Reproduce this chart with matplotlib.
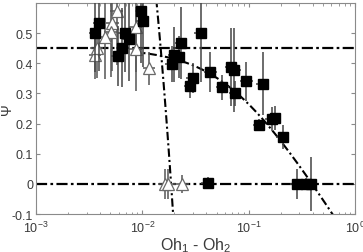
import numpy as np
import matplotlib
matplotlib.use("Agg")
import matplotlib.pyplot as plt
from matplotlib.ticker import FixedLocator, FuncFormatter, LogLocator, NullFormatter

plt.rcParams['font.family'] = ['Liberation Sans', 'DejaVu Sans']
plt.rcParams['mathtext.fontset'] = 'custom'
plt.rcParams['mathtext.rm'] = 'Liberation Sans'
plt.rcParams['mathtext.it'] = 'Liberation Sans:italic'

# filled squares
sq_x = [0.00973, 0.0101, 0.00392, 0.00359, 0.00687, 0.00745, 0.00644, 0.00587,
        0.0200, 0.0220, 0.0189, 0.0231, 0.0354, 0.0298, 0.0281, 0.0434, 0.0566,
        0.0683, 0.0729, 0.0744, 0.0946, 0.136, 0.125, 0.165, 0.177, 0.209,
        0.0412, 0.283, 0.347, 0.384]
sq_y = [0.572, 0.539, 0.534, 0.501, 0.501, 0.480, 0.452, 0.425,
        0.429, 0.421, 0.397, 0.468, 0.499, 0.350, 0.324, 0.370, 0.320,
        0.387, 0.377, 0.300, 0.341, 0.333, 0.196, 0.214, 0.218, 0.155,
        0.003, 0.0, 0.0, 0.0]
sq_err = [0.17, 0.15, 0.16, 0.13, 0.13, 0.14, 0.13, 0.10,
          0.09, 0.07, 0.06, 0.12, 0.16, 0.05, 0.04, 0.066, 0.04,
          0.13, 0.14, 0.04, 0.065, 0.105, 0.02, 0.04, 0.04, 0.04,
          0.02, 0.05, 0.02, 0.09]

# open triangles
tr_x = [0.00574, 0.00523, 0.00505, 0.00446, 0.00867, 0.00867, 0.00359, 0.00373,
        0.01156, 0.0163, 0.0176, 0.0238]
tr_y = [0.575, 0.533, 0.505, 0.487, 0.520, 0.447, 0.427, 0.452,
        0.384, 0.0, 0.0, 0.0]
tr_err = [0.18, 0.16, 0.15, 0.14, 0.15, 0.14, 0.08, 0.10,
          0.055, 0.05, 0.05, 0.03]

x_rel_err = 0.15

# model curves parameters
psi_plateau = 0.45
curve_s, curve_x0, curve_m = 0.187, 0.0666, 1.3
steep_a, steep_b = 2.232, 119.7

fig = plt.figure(figsize=(3.63, 2.53), dpi=100)
ax = fig.add_axes([0.099, 0.150, 0.879, 0.834])

tc = '#3a3a3a'
ax.axhline(psi_plateau, color='black', lw=1.6, dashes=[5, 1.5, 1.2, 1.5], zorder=2)
ax.axhline(0.0, color='black', lw=1.6, dashes=[5, 1.5, 1.2, 1.5], zorder=2)

xc = np.logspace(np.log10(0.008), 0, 300)
yc = psi_plateau - curve_s * np.log(1 + (xc / curve_x0) ** curve_m)
ax.plot(xc, yc, color='black', lw=1.5, dashes=[4, 1.5, 1, 1.5], zorder=2)

xs = np.linspace(0.0125, 0.0205, 100)
ys = steep_a - steep_b * xs
ax.plot(xs, ys, color='black', lw=1.5, dashes=[4, 1.5, 1, 1.5], zorder=2)

sx = np.array(sq_x)
tx = np.array(tr_x)
ax.errorbar(tx, tr_y, yerr=tr_err,
            xerr=[tx * (1 - 1 / (1 + x_rel_err)), tx * x_rel_err],
            fmt='^', ms=8, mfc='white', mec='#6a6a6a', mew=0.9,
            ecolor='#555555', elinewidth=1.1, capsize=0, zorder=3)
ax.errorbar(sx, sq_y, yerr=sq_err,
            xerr=[sx * (1 - 1 / (1 + x_rel_err)), sx * x_rel_err],
            fmt='s', ms=6.5, mfc='black', mec='black',
            ecolor='#444444', elinewidth=1.1, capsize=0, zorder=4)

ax.set_xscale('log')
ax.set_xlim(1e-3, 1)
ax.set_ylim(-0.1, 0.6)
ax.yaxis.set_major_locator(FixedLocator([-0.1, 0, 0.1, 0.2, 0.3, 0.4, 0.5]))
ax.yaxis.set_major_formatter(FuncFormatter(lambda v, p: '0' if abs(v) < 1e-9 else f'{v:g}'))
ax.xaxis.set_major_locator(LogLocator(base=10, numticks=10))
ax.xaxis.set_minor_locator(LogLocator(base=10, subs=np.arange(2, 10), numticks=20))
ax.xaxis.set_minor_formatter(NullFormatter())

for s in ax.spines.values():
    s.set_color('#8a8a8a')
    s.set_linewidth(0.8)
ax.tick_params(which='both', direction='in', top=True, right=True,
               colors='#8a8a8a', labelcolor=tc, labelsize=9)
ax.tick_params(axis='y', pad=2)
ax.tick_params(axis='x', pad=4)
ax.tick_params(which='major', length=3)
ax.tick_params(which='minor', length=1.8)

ax.set_xlabel('Oh$_1$ - Oh$_2$', fontsize=11.5, color=tc, labelpad=0)
ax.set_ylabel('Ψ', fontsize=10, color=tc)
ax.yaxis.set_label_coords(-0.068, 0.5)

fig.savefig('out.png', dpi=100)
